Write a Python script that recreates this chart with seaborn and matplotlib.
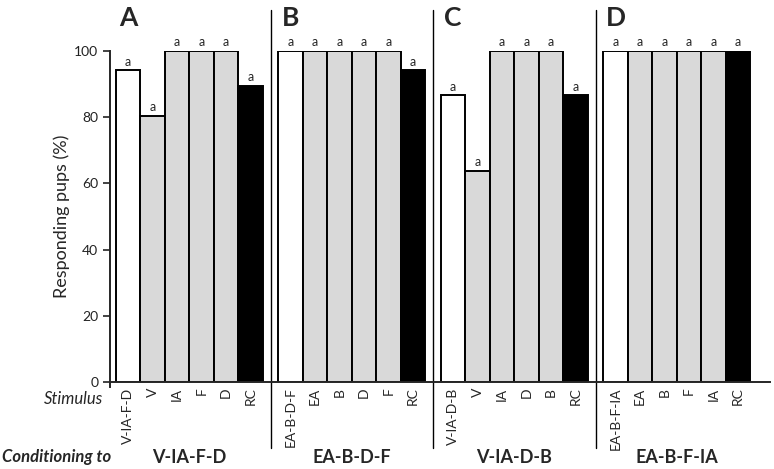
import numpy as np
import pandas as pd
import matplotlib
matplotlib.use("Agg")
import matplotlib.pyplot as plt
import matplotlib.transforms as mtransforms
import seaborn as sns

sns.set_style("ticks")
plt.rcParams['font.family'] = ['Lato', 'DejaVu Sans']

# data
panels = ["A", "B", "C", "D"]
conditioning = ["V-IA-F-D", "EA-B-D-F", "V-IA-D-B", "EA-B-F-IA"]
stimuli = [
    ["V-IA-F-D", "V", "IA", "F", "D", "RC"],
    ["EA-B-D-F", "EA", "B", "D", "F", "RC"],
    ["V-IA-D-B", "V", "IA", "D", "B", "RC"],
    ["EA-B-F-IA", "EA", "B", "F", "IA", "RC"],
]
responding = [
    [94.2, 80.4, 100, 100, 100, 89.4],
    [100, 100, 100, 100, 100, 94.2],
    [86.6, 63.8, 100, 100, 100, 86.6],
    [100, 100, 100, 100, 100, 100],
]
kinds = ["compound", "element", "element", "element", "element", "RC"]
letters = "a"

group_step = 6.63
rows = []
for g in range(4):
    for i in range(6):
        rows.append({"pos": g * group_step + i, "val": responding[g][i],
                     "kind": kinds[i], "label": stimuli[g][i]})
df = pd.DataFrame(rows)

fig = plt.figure(figsize=(7.74, 4.69), dpi=100)
ax = fig.add_axes([110 / 774, 1 - 382 / 469, 660 / 774, 331 / 469])

palette = {"compound": "white", "element": "#d9d9d9", "RC": "black"}
sns.barplot(data=df, x="pos", y="val", hue="kind", palette=palette,
            native_scale=True, dodge=False, width=1.0, legend=False,
            edgecolor="black", linewidth=1.4, saturation=1, ax=ax)

ax.set_xlim(-0.745, 26.2)
ax.set_ylim(0, 100)
ax.set_yticks([0, 20, 40, 60, 80, 100])
ax.tick_params(axis="y", labelsize=10, length=5, width=1.2, colors="#222222")
ax.set_xticks(df["pos"])
ax.set_xticklabels(df["label"], rotation=90, fontsize=10)
ax.tick_params(axis="x", length=0, pad=4)
ax.set_xlabel("")
ax.set_ylabel("Responding pups (%)", fontsize=13, labelpad=3)
sns.despine(ax=ax)
ax.spines["left"].set_bounds(-1.6, 100)
ax.spines["left"].set_linewidth(1.4)
ax.spines["bottom"].set_linewidth(1.4)

# "a" significance letters
for _, r in df.iterrows():
    ax.text(r["pos"], r["val"] + 0.8, letters, ha="center", va="bottom", fontsize=9)

trans = mtransforms.blended_transform_factory(ax.transData, ax.transAxes)
for g in range(4):
    start = g * group_step
    ax.text(start, 1.10, panels[g], transform=trans, ha="center", va="center",
            fontsize=19, fontweight="bold")
    ax.text(start + 2.5, -0.228, conditioning[g], transform=trans, ha="center",
            va="center", fontsize=13, fontweight="bold", clip_on=False)
    if g > 0:
        xd = start - 0.81
        ax.plot([xd, xd], [-0.2, 1.124], transform=trans, color="black",
                lw=1.0, clip_on=False)

fig.text(103 / 774, 1 - 399 / 469, "Stimulus", ha="right", va="center",
         fontsize=12, fontstyle="italic")
fig.text(2 / 774, 1 - 457 / 469, "Conditioning to", ha="left", va="center",
         fontsize=12, fontstyle="italic", fontweight="bold")

fig.savefig("out.png", dpi=100)
